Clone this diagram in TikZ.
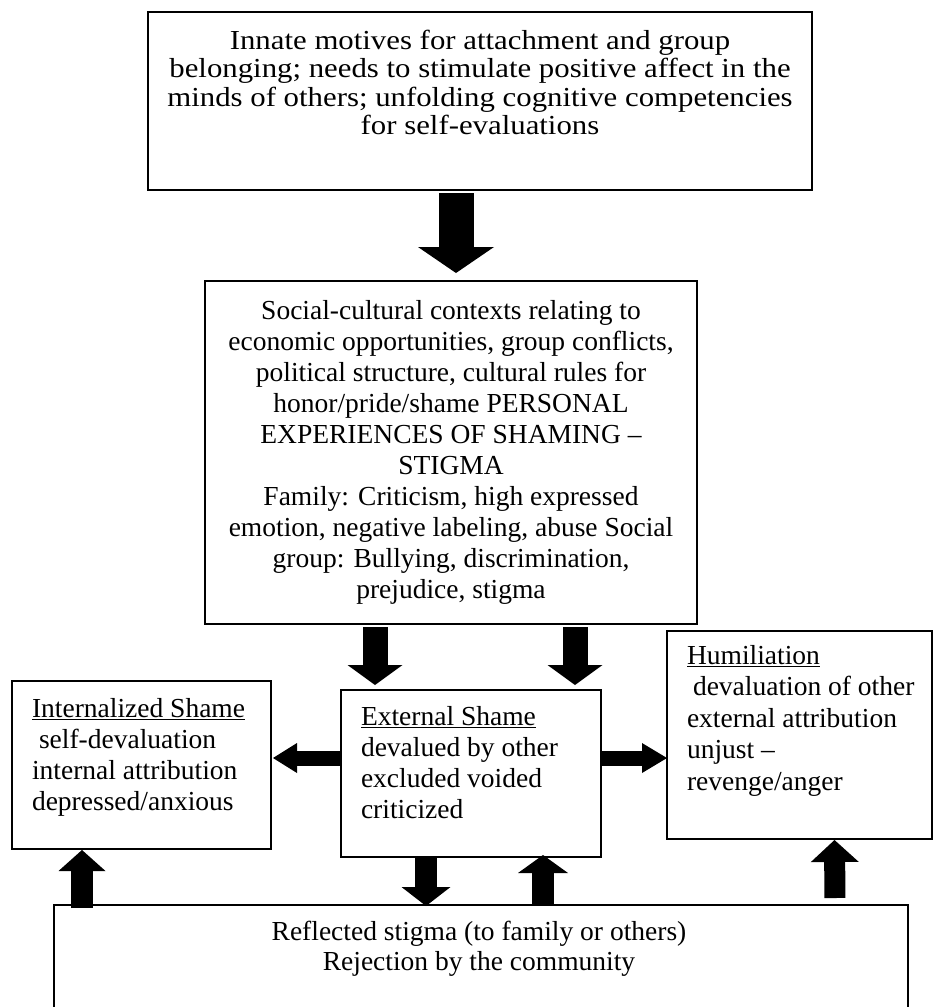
\documentclass[tikz,border=0pt]{standalone}
\usepackage{fontspec}
\setmainfont{Liberation Serif}
\usepackage{tikz}
\usetikzlibrary{arrows.meta}

\begin{document}
\begin{tikzpicture}[
	x=1pt, y=-1pt,
	every node/.style={font=\fontsize{27.5}{31}\selectfont, inner sep=0pt, outer sep=0pt},
	box/.style n args={2}{draw, line width=1.6pt, anchor=north west, minimum width=#1, minimum height=#2},
	fat/.style n args={3}{line width=#1, -{Triangle[width=#2, length=#3, line width=0pt]}},
	line join=miter
	]
	
	\useasboundingbox (0,0) rectangle (935,1007);
	\clip (0,0) rectangle (935,1007);
	
	\node[box={664pt}{178pt}] (top) at (148,12) {};
	\node[box={492pt}{343pt}] (social) at (205,281) {};
	\node[box={259pt}{168pt}] (internal) at (12,681) {};
	\node[box={260pt}{167pt}] (external) at (341,690) {};
	\node[box={265pt}{208pt}] (humil) at (667,631) {};
	\node[box={854pt}{140pt}] (reflect) at (54,905) {};
	
	\node[anchor=north, align=center, xscale=1.12, font=\fontsize{27.5}{28.5}\selectfont] (topText) at (480,30) {Innate motives for attachment and group\\ belonging; needs to stimulate positive affect in the\\ minds of others; unfolding cognitive competencies\\ for self-evaluations};
	\node[anchor=north, align=center] (socialText) at (451,300) {Social-cultural contexts relating to\\ economic opportunities, group conflicts,\\ political structure, cultural rules for\\ honor/pride/shame PERSONAL\\ EXPERIENCES OF SHAMING –\\ STIGMA\\ Family: Criticism, high expressed\\ emotion, negative labeling, abuse Social\\ group: Bullying, discrimination,\\ prejudice, stigma};
	\node[anchor=north west, align=left] (internalText) at (32,698) {\underline{Internalized Shame}\\ \hspace*{7pt}self-devaluation\\ internal attribution\\ depressed/anxious};
	\node[anchor=north west, align=left] (externalText) at (361,706) {\underline{External Shame}\\ devalued by other\\ excluded voided\\ criticized};
	\node[anchor=north west, align=left, font=\fontsize{27.5}{31.5}\selectfont] (humilText) at (687,645) {\underline{Humiliation}\\ \hspace*{6pt}devaluation of other\\ external attribution\\ unjust –\\ revenge/anger};
	\node[anchor=north, align=center, font=\fontsize{27.5}{30}\selectfont] (reflectText) at (479,921) {Reflected stigma (to family or others)\\ Rejection by the community};
	
	\draw[fat={35pt}{76pt}{26pt}, shorten <=3pt, shorten >=8pt] ([xshift=-24pt]top.south) -- ([xshift=5pt]social.north);
	\draw[fat={25pt}{55pt}{20pt}, shorten <=3pt, shorten >=5pt] ([xshift=-76pt]social.south) -- ([xshift=-96pt]external.north);
	\draw[fat={25pt}{55pt}{20pt}, shorten <=3pt, shorten >=5pt] ([xshift=124pt]social.south) -- ([xshift=104pt]external.north);
	\draw[fat={15pt}{30pt}{24pt}, shorten >=2pt] ([yshift=15.5pt]external.west) -- ([yshift=7pt]internal.east);
	\draw[fat={15pt}{30pt}{25pt}] ([yshift=15.5pt]external.east) -- ([yshift=-23pt]humil.west);
	\draw[fat={22pt}{47pt}{21pt}, shorten <=-3pt, shorten >=1pt] ([xshift=-399pt]reflect.north) -- ([xshift=-59.5pt]internal.south);
	\draw[fat={22pt}{49pt}{19pt}, shorten <=-1pt, shorten >=-1pt] ([xshift=-45pt]external.south) -- ([xshift=-55pt]reflect.north);
	\draw[fat={22pt}{50pt}{18pt}, shorten >=-2pt] ([xshift=62pt]reflect.north) -- ([xshift=72pt]external.south);
	\draw[fat={21pt}{48pt}{22pt}, shorten <=7pt, shorten >=1pt] ([xshift=354pt]reflect.north) -- ([xshift=35pt]humil.south);
	
\end{tikzpicture}
\end{document}
